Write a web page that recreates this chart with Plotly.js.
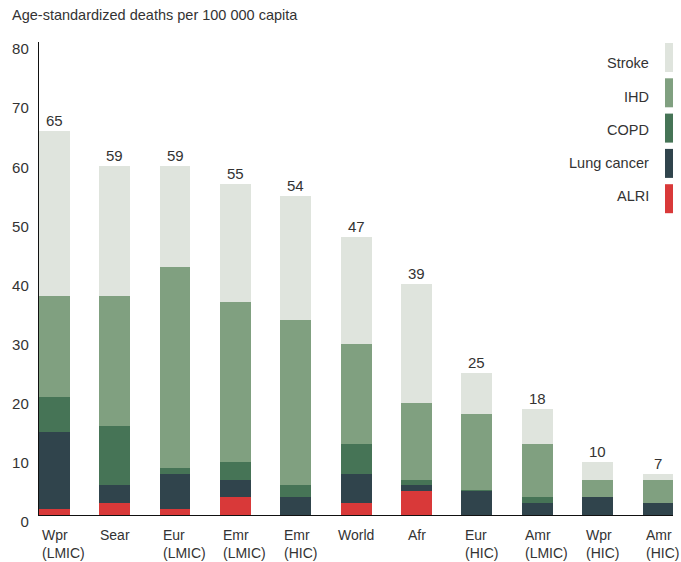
<!DOCTYPE html>
<html><head><meta charset="utf-8">
<script src="https://cdn.plot.ly/plotly-3.0.1.min.js"></script>
<style>html,body{margin:0;padding:0;background:#fff}#chart{width:681px;height:562px}</style>
</head><body><div id="chart"></div>
<script>
const categories = ["Wpr (LMIC)","Sear","Eur (LMIC)","Emr (LMIC)","Emr (HIC)","World","Afr","Eur (HIC)","Amr (LMIC)","Wpr (HIC)","Amr (HIC)"];
const catLine1 = ["Wpr","Sear","Eur","Emr","Emr","World","Afr","Eur","Amr","Wpr","Amr"];
const catLine2 = ["(LMIC)","","(LMIC)","(LMIC)","(HIC)","","","(HIC)","(LMIC)","(HIC)","(HIC)"];
const alri       = [1, 2, 1, 3, 0, 2, 4, 0, 0, 0, 0];
const lungCancer = [13, 3, 6, 3, 3, 5, 1, 4, 2, 3, 2];
const copd       = [6, 10, 1, 3, 2, 5, 1, 0.2, 1, 0, 0];
const ihd        = [17, 22, 34, 27, 28, 17, 13, 12.8, 9, 3, 4];
const stroke     = [28, 22, 17, 20, 21, 18, 20, 7, 6, 3, 1];
const totalLabels = ["65","59","59","55","54","47","39","25","18","10","7"];
const seriesNames = ["ALRI","Lung cancer","COPD","IHD","Stroke"];
const seriesColors = ["#d93939","#30444c","#467456","#80a080","#dfe4dd"];
const yTicks = [0,10,20,30,40,50,60,70,80];

const seriesValues = [alri, lungCancer, copd, ihd, stroke];
const FONT = '"Liberation Sans", Arial, Helvetica, sans-serif';
const TXT = '#333333';

const traces = seriesNames.map((n, k) => ({
  type: 'bar', x: categories, y: seriesValues[k], name: n,
  marker: {color: seriesColors[k], line: {width: 0}}, hoverinfo: 'skip'
}));

const W = 681, H = 562, ML = 39, MR = 8, MT = 42, MB = 47;
const PW = W - ML - MR, PH = H - MT - MB;
const px2x = p => (p - ML) / PW;
const py2y = p => 1 - (p - MT) / PH;

const annotations = [];
const shapes = [];
categories.forEach((c, i) => {
  const total = seriesValues.reduce((s, arr) => s + arr[i], 0);
  annotations.push({x: c, y: total, xref: 'x', yref: 'y', text: totalLabels[i], showarrow: false,
    yanchor: 'bottom', xanchor: 'center', yshift: 0, font: {family: FONT, size: 15, color: TXT}});
  if (catLine2[i]) {
    annotations.push({x: c, y: 0, xref: 'x', yref: 'paper', text: catLine1[i] + '<br>' + catLine2[i],
      showarrow: false, align: 'left', xanchor: 'left', yanchor: 'top', xshift: -14, yshift: -10,
      font: {family: FONT, size: 14, color: TXT}});
  } else {
    annotations.push({x: c, y: 0, xref: 'x', yref: 'paper', text: catLine1[i],
      showarrow: false, xanchor: 'center', yanchor: 'top', yshift: -10,
      font: {family: FONT, size: 14, color: TXT}});
  }
});

// legend (top to bottom: Stroke ... ALRI)
const order = [4, 3, 2, 1, 0];
order.forEach((k, j) => {
  const top = 43 + j * 35.3;
  shapes.push({type: 'rect', xref: 'paper', yref: 'paper', x0: px2x(665), x1: px2x(673),
    y0: py2y(top + 29), y1: py2y(top), fillcolor: seriesColors[k], line: {width: 0}, layer: 'above'});
  annotations.push({xref: 'paper', yref: 'paper', x: px2x(651), y: py2y(63.5 + j * 33.2),
    text: seriesNames[k], showarrow: false, xanchor: 'right', yanchor: 'middle',
    font: {family: FONT, size: 14.5, color: TXT}});
});

const layout = {
  width: W, height: H,
  margin: {l: ML, r: MR, t: MT, b: MB, pad: 0},
  paper_bgcolor: '#fff', plot_bgcolor: '#fff',
  barmode: 'stack', bargap: 0.49, showlegend: false,
  font: {family: FONT, color: TXT},
  title: {text: 'Age-standardized deaths per 100 000 capita', xref: 'container', yref: 'container',
    x: 12 / W, xanchor: 'left', y: 1 - 15 / H, yanchor: 'middle',
    font: {family: FONT, size: 14.5, color: TXT}},
  xaxis: {type: 'category', range: [-0.255, 10.25], showticklabels: false, ticks: '',
    showline: true, linecolor: '#111', linewidth: 1.2, showgrid: false, zeroline: false, fixedrange: true},
  yaxis: {range: [0, 80], tickmode: 'array', tickvals: yTicks, ticktext: yTicks.map(String), ticks: '',
    showline: true, linecolor: '#111', linewidth: 1.2, showgrid: false, zeroline: false,
    tickfont: {family: FONT, size: 15, color: TXT}, ticklabelshift: 7, ticklabelstandoff: 6, fixedrange: true},
  annotations: annotations, shapes: shapes
};

Plotly.newPlot('chart', traces, layout, {staticPlot: true, displayModeBar: false});
</script>
</body></html>
